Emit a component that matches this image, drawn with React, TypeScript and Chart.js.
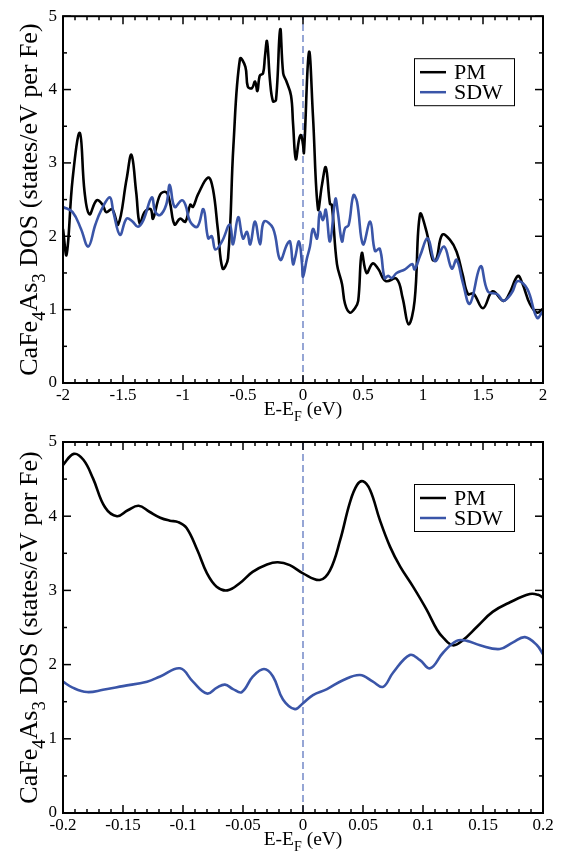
import React, { useEffect, useRef } from 'react';
import { Chart, registerables } from 'chart.js';
Chart.register(...registerables);

// ---------- data: top panel (wide energy window) ----------
const pmTopX = [-2.0, -1.97, -1.92, -1.86, -1.82, -1.78, -1.72, -1.67, -1.64, -1.59, -1.54, -1.47, -1.43, -1.39, -1.36, -1.32, -1.27, -1.25, -1.19, -1.14, -1.11, -1.07, -1.025, -0.98, -0.94, -0.917, -0.875, -0.79, -0.75, -0.71, -0.67, -0.625, -0.58, -0.525, -0.48, -0.46, -0.425, -0.4, -0.38, -0.36, -0.333, -0.317, -0.3, -0.275, -0.25, -0.225, -0.19, -0.165, -0.14, -0.1, -0.083, -0.06, -0.033, -0.017, 0.0, 0.008, 0.05, 0.083, 0.125, 0.158, 0.19, 0.225, 0.24, 0.283, 0.325, 0.35, 0.39, 0.433, 0.46, 0.49, 0.53, 0.58, 0.625, 0.69, 0.78, 0.83, 0.88, 0.93, 0.975, 1.03, 1.08, 1.11, 1.16, 1.225, 1.28, 1.33, 1.375, 1.42, 1.5, 1.58, 1.67, 1.72, 1.79, 1.83, 1.89, 1.95, 2.0];
const pmTopY = [2.1, 1.75, 2.78, 3.41, 2.6, 2.3, 2.49, 2.43, 2.33, 2.37, 2.16, 2.78, 3.11, 2.6, 2.17, 2.33, 2.37, 2.24, 2.57, 2.6, 2.47, 2.16, 2.24, 2.2, 2.43, 2.4, 2.57, 2.8, 2.64, 2.1, 1.56, 1.7, 3.23, 4.42, 4.31, 4.04, 4.02, 4.11, 3.98, 4.19, 4.22, 4.45, 4.66, 4.12, 3.84, 3.86, 4.82, 4.22, 4.12, 3.92, 3.54, 3.05, 3.32, 3.38, 3.25, 3.14, 4.51, 3.64, 2.37, 2.7, 2.94, 2.44, 2.43, 1.62, 1.35, 1.08, 0.96, 1.02, 1.12, 1.77, 1.5, 1.63, 1.56, 1.39, 1.42, 1.16, 0.8, 1.12, 2.3, 2.06, 1.68, 1.68, 2.02, 1.95, 1.79, 1.48, 1.21, 1.22, 1.02, 1.25, 1.12, 1.22, 1.46, 1.35, 1.08, 0.96, 1.01];

const sdwTopX = [-2.0, -1.92, -1.85, -1.79, -1.73, -1.68, -1.61, -1.58, -1.525, -1.47, -1.42, -1.375, -1.33, -1.26, -1.23, -1.19, -1.14, -1.11, -1.07, -1.01, -0.98, -0.94, -0.88, -0.83, -0.79, -0.76, -0.73, -0.675, -0.61, -0.583, -0.54, -0.5, -0.467, -0.44, -0.4, -0.358, -0.325, -0.25, -0.19, -0.133, -0.108, -0.083, -0.067, -0.033, -0.008, 0.0, 0.033, 0.058, 0.083, 0.117, 0.14, 0.167, 0.19, 0.225, 0.27, 0.29, 0.325, 0.35, 0.38, 0.42, 0.45, 0.5, 0.56, 0.6, 0.64, 0.68, 0.71, 0.74, 0.78, 0.85, 0.91, 0.93, 0.975, 1.04, 1.1, 1.175, 1.24, 1.28, 1.33, 1.39, 1.48, 1.54, 1.62, 1.67, 1.74, 1.79, 1.87, 1.95, 2.0];
const sdwTopY = [2.4, 2.33, 2.1, 1.86, 2.16, 2.36, 2.53, 2.33, 2.02, 2.24, 2.2, 2.13, 2.22, 2.53, 2.33, 2.29, 2.43, 2.7, 2.4, 2.49, 2.43, 2.2, 2.13, 2.37, 1.97, 2.0, 1.82, 1.93, 2.16, 1.89, 2.26, 1.97, 2.06, 1.89, 2.2, 1.89, 2.2, 2.11, 1.68, 1.89, 1.93, 1.62, 1.7, 1.93, 1.62, 1.45, 1.7, 1.86, 2.1, 1.97, 2.33, 2.22, 2.36, 1.93, 2.51, 2.33, 1.93, 2.11, 2.15, 2.56, 2.47, 1.89, 2.2, 1.8, 1.83, 1.43, 1.46, 1.43, 1.5, 1.55, 1.62, 1.55, 1.73, 1.97, 1.66, 1.86, 1.56, 1.68, 1.38, 1.08, 1.59, 1.25, 1.21, 1.12, 1.23, 1.39, 1.28, 0.89, 0.98];

// ---------- data: bottom panel (zoom near E_F) ----------
const pmBotX = [-0.2, -0.191, -0.183, -0.175, -0.165, -0.155, -0.146, -0.137, -0.128, -0.119, -0.111, -0.104, -0.097, -0.088, -0.08, -0.072, -0.063, -0.0525, -0.042, -0.03, -0.021, -0.011, 0.0, 0.014, 0.0225, 0.031, 0.039, 0.045, 0.05, 0.056, 0.064, 0.0725, 0.081, 0.0917, 0.103, 0.1117, 0.117, 0.125, 0.1333, 0.145, 0.158, 0.1725, 0.189, 0.196, 0.2];
const pmBotY = [4.69, 4.84, 4.76, 4.51, 4.12, 4.0, 4.08, 4.14, 4.06, 3.98, 3.94, 3.92, 3.84, 3.54, 3.23, 3.05, 3.0, 3.1, 3.25, 3.35, 3.38, 3.34, 3.23, 3.14, 3.27, 3.68, 4.18, 4.42, 4.47, 4.35, 3.95, 3.59, 3.32, 3.05, 2.74, 2.47, 2.36, 2.26, 2.33, 2.51, 2.71, 2.84, 2.95, 2.94, 2.9];

const sdwBotX = [-0.2, -0.192, -0.18, -0.1667, -0.15, -0.13, -0.119, -0.1025, -0.0917, -0.08, -0.0717, -0.065, -0.0583, -0.051, -0.0417, -0.0325, -0.025, -0.0167, -0.0067, 0.0, 0.0083, 0.02, 0.0333, 0.0475, 0.0583, 0.0667, 0.075, 0.089, 0.0975, 0.106, 0.1167, 0.128, 0.1367, 0.1475, 0.164, 0.175, 0.185, 0.195, 0.2];
const sdwBotY = [1.77, 1.69, 1.63, 1.66, 1.71, 1.77, 1.84, 1.95, 1.77, 1.61, 1.69, 1.73, 1.67, 1.63, 1.84, 1.94, 1.84, 1.53, 1.4, 1.48, 1.59, 1.67, 1.79, 1.86, 1.77, 1.7, 1.89, 2.13, 2.06, 1.95, 2.16, 2.32, 2.32, 2.26, 2.21, 2.3, 2.37, 2.26, 2.14];

// ---------- ticks ----------
const xTicksTop = [-2, -1.5, -1, -0.5, 0, 0.5, 1, 1.5, 2];
const xTicksBot = [-0.2, -0.15, -0.1, -0.05, 0, 0.05, 0.1, 0.15, 0.2];
const yTicks = [0, 1, 2, 3, 4, 5];
const seriesLabels = ['PM', 'SDW'];

const PM_COLOR = '#000000';
const SDW_COLOR = '#3a55a8';
const FERMI_COLOR = '#6a80c4';
const FONT = "'Liberation Serif', 'Times New Roman', serif";

const pts = (xs: number[], ys: number[]) => xs.map((x, i) => ({ x, y: ys[i] }));

type Part = { t: string; sub?: boolean };

function drawRich(ctx: CanvasRenderingContext2D, parts: Part[], cx: number, baseY: number, size: number) {
  const subSize = size * 0.72;
  let total = 0;
  const widths = parts.map((p) => {
    ctx.font = `${p.sub ? subSize : size}px ${FONT}`;
    const w = ctx.measureText(p.t).width;
    total += w;
    return w;
  });
  let x = cx - total / 2;
  ctx.textAlign = 'left';
  ctx.textBaseline = 'alphabetic';
  parts.forEach((p, i) => {
    ctx.font = `${p.sub ? subSize : size}px ${FONT}`;
    ctx.fillText(p.t, x, baseY + (p.sub ? size * 0.3 : 0));
    x += widths[i];
  });
}

function makeDecor(xMinorStep: number, yMinorStep: number) {
  return {
    id: 'decor',
    beforeDatasetsDraw(chart: any) {
      const { ctx, chartArea: a, scales } = chart;
      const px0 = scales.x.getPixelForValue(0);
      ctx.save();
      ctx.strokeStyle = FERMI_COLOR;
      ctx.lineWidth = 1.4;
      ctx.setLineDash([7, 4]);
      ctx.beginPath();
      ctx.moveTo(px0, a.bottom);
      ctx.lineTo(px0, a.top);
      ctx.stroke();
      ctx.restore();
    },
    afterDatasetsDraw(chart: any) {
      const { ctx, chartArea: a, scales } = chart;
      const xs = scales.x;
      const ys = scales.y;
      ctx.save();
      ctx.strokeStyle = '#000';
      ctx.lineWidth = 2;
      ctx.strokeRect(a.left, a.top, a.right - a.left, a.bottom - a.top);
      ctx.lineWidth = 1.5;
      const line = (x1: number, y1: number, x2: number, y2: number) => {
        ctx.beginPath();
        ctx.moveTo(x1, y1);
        ctx.lineTo(x2, y2);
        ctx.stroke();
      };
      const majX = xs.ticks.map((t: any) => t.value);
      const nX = Math.round((xs.max - xs.min) / xMinorStep);
      for (let i = 0; i <= nX; i++) {
        const v = xs.min + i * xMinorStep;
        const major = majX.some((m: number) => Math.abs(m - v) < xMinorStep / 10);
        const len = major ? 8 : 4;
        const p = xs.getPixelForValue(v);
        line(p, a.bottom, p, a.bottom - len);
        line(p, a.top, p, a.top + len);
      }
      const majY = ys.ticks.map((t: any) => t.value);
      const nY = Math.round((ys.max - ys.min) / yMinorStep);
      for (let i = 0; i <= nY; i++) {
        const v = ys.min + i * yMinorStep;
        const major = majY.some((m: number) => Math.abs(m - v) < yMinorStep / 10);
        const len = major ? 8 : 4;
        const p = ys.getPixelForValue(v);
        line(a.left, p, a.left + len, p);
        line(a.right, p, a.right - len, p);
      }

      // legend
      const bx = a.right - 129;
      const by = a.top + 42;
      ctx.fillStyle = '#fff';
      ctx.fillRect(bx, by, 100, 47);
      ctx.lineWidth = 1;
      ctx.strokeStyle = '#000';
      ctx.strokeRect(bx + 0.5, by + 0.5, 100, 47);
      chart.data.datasets.forEach((ds: any, i: number) => {
        const ly = by + 14 + i * 20;
        ctx.strokeStyle = ds.borderColor;
        ctx.lineWidth = 2.5;
        line(bx + 6, ly, bx + 32, ly);
        ctx.fillStyle = '#000';
        ctx.font = `22px ${FONT}`;
        ctx.textAlign = 'left';
        ctx.textBaseline = 'middle';
        ctx.fillText(ds.label, bx + 40, ly + 1);
      });

      // axis titles
      ctx.fillStyle = '#000';
      drawRich(ctx, [{ t: 'E-E' }, { t: 'F', sub: true }, { t: ' (eV)' }], (a.left + a.right) / 2, a.bottom + 32, 19.5);
      ctx.save();
      ctx.translate(37, (a.top + a.bottom) / 2);
      ctx.rotate(-Math.PI / 2);
      drawRich(ctx, [{ t: 'CaFe' }, { t: '4', sub: true }, { t: 'As' }, { t: '3', sub: true }, { t: ' DOS (states/eV per Fe)' }], 0, 0, 26);
      ctx.restore();
      ctx.restore();
    },
  };
}

function makeConfig(opts: {
  pmX: number[]; pmY: number[]; sdwX: number[]; sdwY: number[];
  xTicks: number[]; xMinor: number; padTop: number; xHeight: number;
}): any {
  const { pmX, pmY, sdwX, sdwY, xTicks, xMinor, padTop, xHeight } = opts;
  return {
    type: 'line',
    data: {
      datasets: [
        { label: seriesLabels[0], data: pts(pmX, pmY), borderColor: PM_COLOR, borderWidth: 2.6, pointRadius: 0, tension: 0.4, fill: false, order: 2 },
        { label: seriesLabels[1], data: pts(sdwX, sdwY), borderColor: SDW_COLOR, borderWidth: 2.6, pointRadius: 0, tension: 0.4, fill: false, order: 1 },
      ],
    },
    options: {
      animation: false,
      responsive: false,
      maintainAspectRatio: false,
      layout: { padding: { top: padTop, right: 22, bottom: 0, left: 0 } },
      plugins: { legend: { display: false }, tooltip: { enabled: false }, title: { display: false } },
      scales: {
        x: {
          type: 'linear',
          min: xTicks[0],
          max: xTicks[xTicks.length - 1],
          afterBuildTicks: (s: any) => { s.ticks = xTicks.map((v) => ({ value: v })); },
          afterFit: (s: any) => { s.height = xHeight; },
          grid: { display: false, drawTicks: false },
          border: { display: false },
          ticks: { color: '#000', font: { family: FONT, size: 17 }, padding: 2, autoSkip: false, maxRotation: 0, callback: (v: number) => String(v) },
        },
        y: {
          type: 'linear',
          min: yTicks[0],
          max: yTicks[yTicks.length - 1],
          afterBuildTicks: (s: any) => { s.ticks = yTicks.map((v) => ({ value: v })); },
          afterFit: (s: any) => { s.width = 63; },
          grid: { display: false, drawTicks: false },
          border: { display: false },
          ticks: { color: '#000', font: { family: FONT, size: 17 }, padding: 6, autoSkip: false, callback: (v: number) => String(v) },
        },
      },
    },
    plugins: [makeDecor(xMinor, 0.5)],
  };
}

export default function App() {
  const topRef = useRef<HTMLCanvasElement>(null);
  const botRef = useRef<HTMLCanvasElement>(null);

  useEffect(() => {
    const c1 = new Chart(topRef.current as HTMLCanvasElement, makeConfig({
      pmX: pmTopX, pmY: pmTopY, sdwX: sdwTopX, sdwY: sdwTopY,
      xTicks: xTicksTop, xMinor: 0.1, padTop: 12, xHeight: 42,
    }));
    const c2 = new Chart(botRef.current as HTMLCanvasElement, makeConfig({
      pmX: pmBotX, pmY: pmBotY, sdwX: sdwBotX, sdwY: sdwBotY,
      xTicks: xTicksBot, xMinor: 0.01, padTop: 17, xHeight: 41,
    }));
    return () => { c1.destroy(); c2.destroy(); };
  }, []);

  return (
    <div style={{ position: 'absolute', left: 0, top: 0, width: 565, height: 854, background: '#fff' }}>
      <canvas ref={topRef} width={565} height={425} style={{ display: 'block', width: 565, height: 425 }} />
      <canvas ref={botRef} width={565} height={429} style={{ display: 'block', width: 565, height: 429 }} />
    </div>
  );
}
